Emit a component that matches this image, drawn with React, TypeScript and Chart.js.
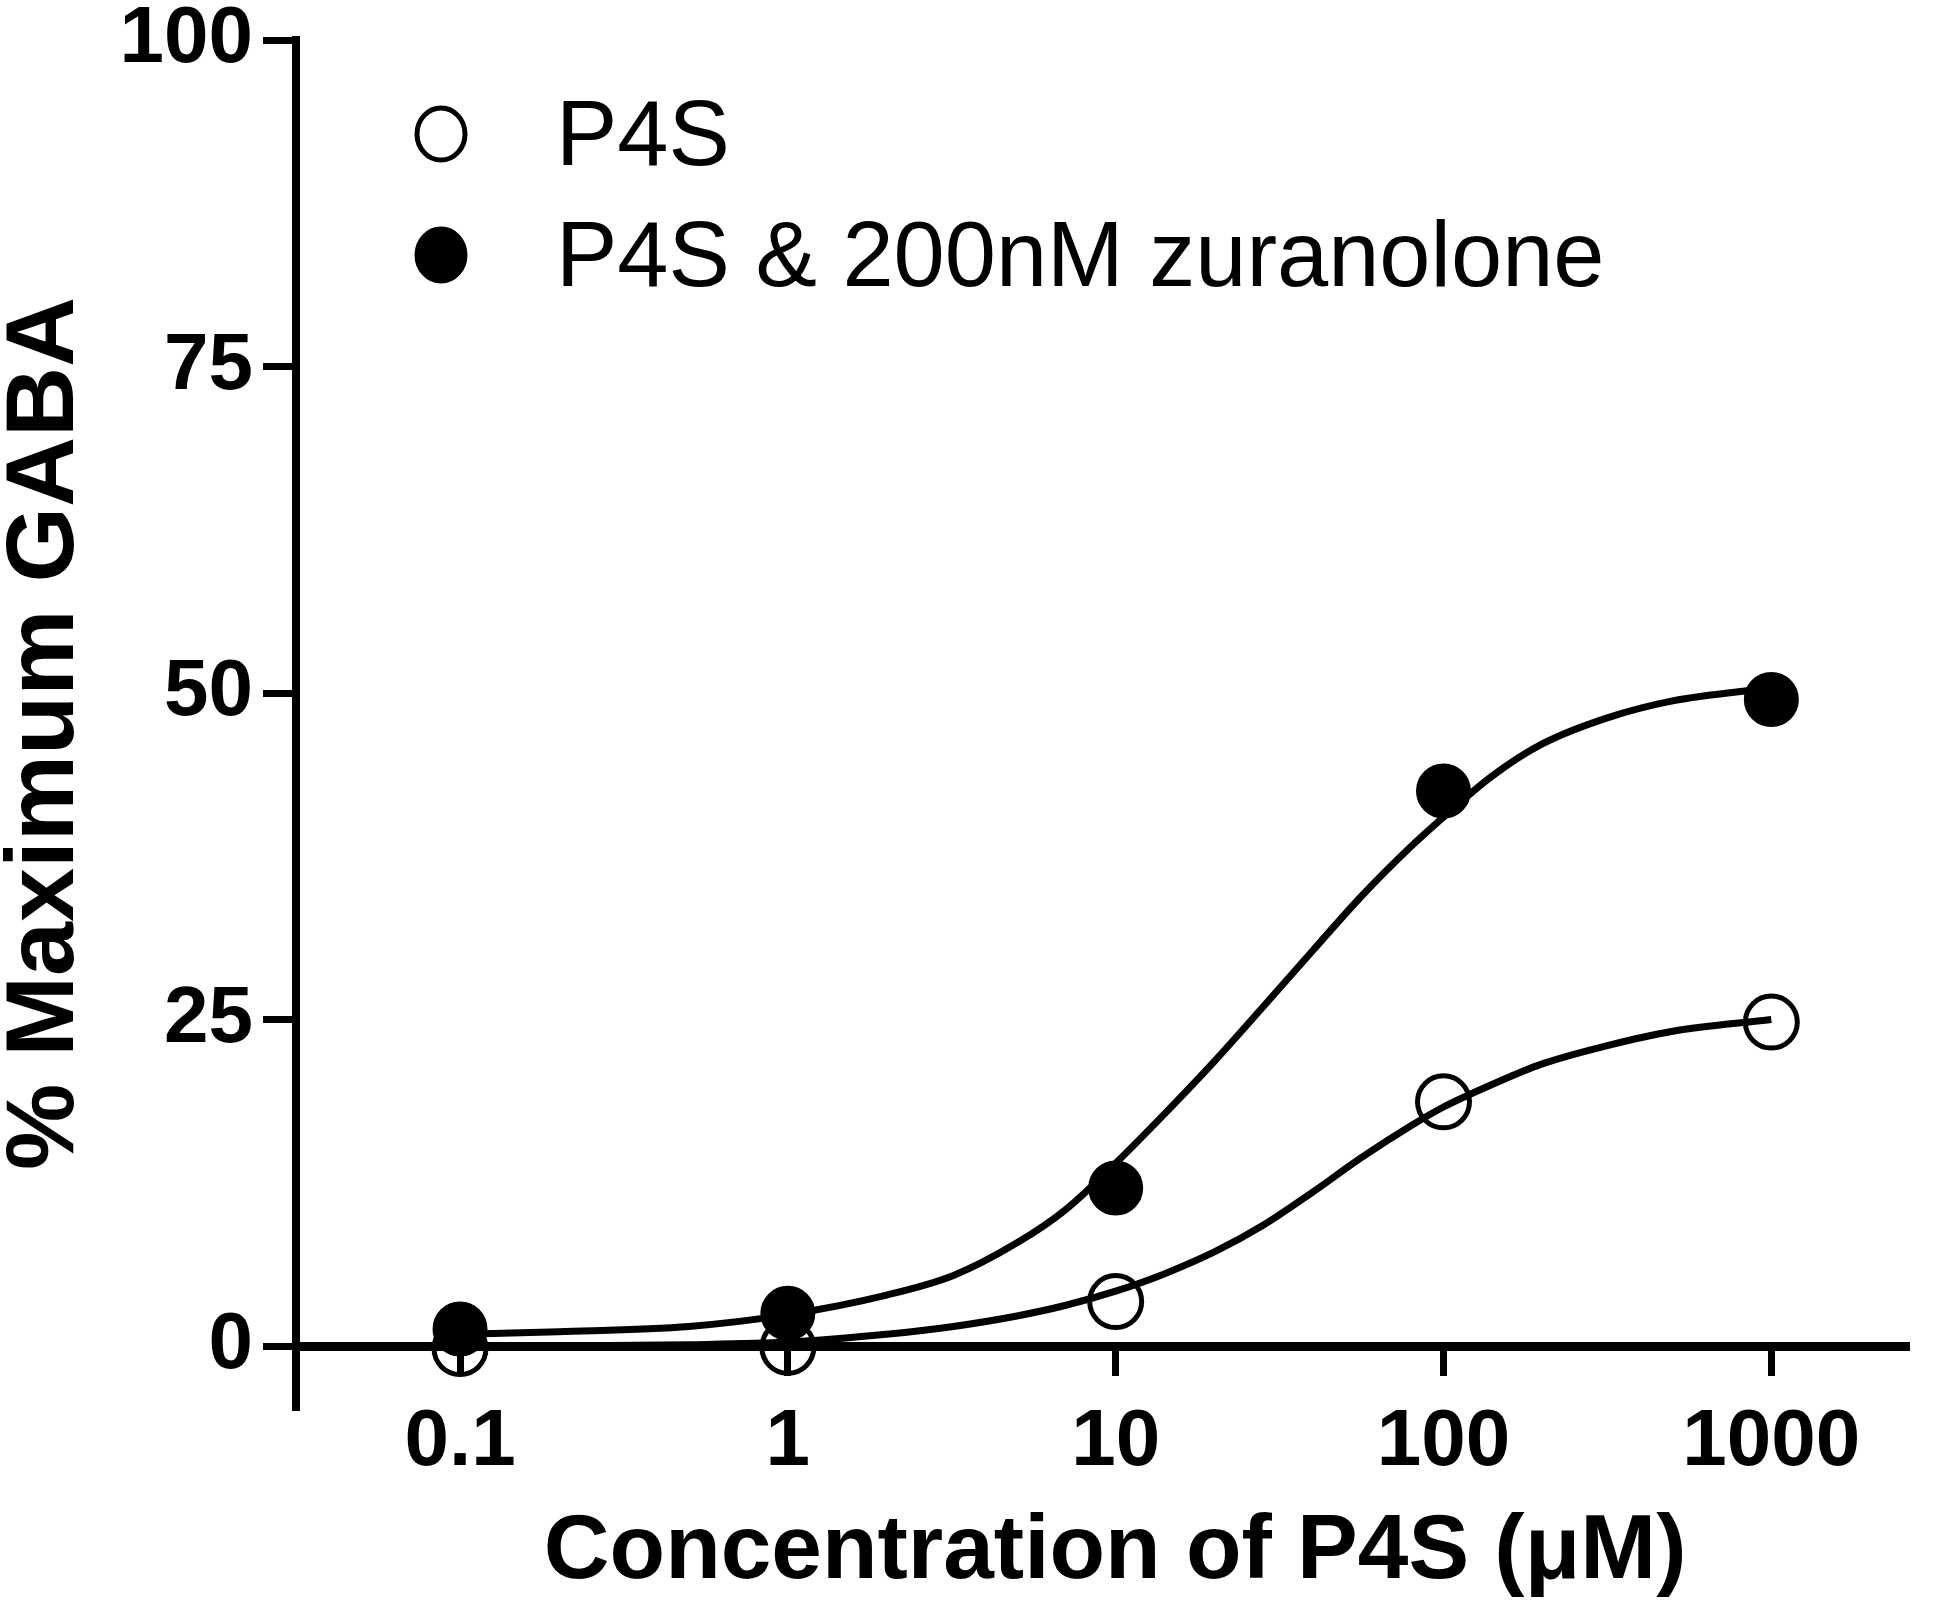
import React, { useEffect, useRef } from "react";
import { Chart, registerables } from "chart.js";

Chart.register(...registerables);

// ---- Data ----
const concentrations = [0.1, 1, 10, 100, 1000];
const p4sValues = [-0.2, -0.1, 3.4, 18.7, 24.8];
const p4sZurValues = [1.3, 2.5, 12.1, 42.5, 49.5];

// fitted curves
const curveConcentrations = [0.1, 0.2, 0.5, 1, 2, 3.2, 5, 7, 10, 14, 20, 28, 40, 56, 80, 100, 140, 200, 316, 500, 1000];
const p4sCurve = [-0.1, 0.0, 0.1, 0.3, 0.9, 1.5, 2.3, 3.1, 4.2, 5.5, 7.2, 9.2, 11.8, 14.4, 16.9, 18.3, 20.0, 21.6, 23.0, 24.1, 25.0];
const p4sZurCurve = [0.9, 1.1, 1.5, 2.4, 3.9, 5.4, 7.9, 10.4, 14.0, 17.7, 21.8, 25.9, 30.3, 34.4, 38.3, 40.5, 43.6, 46.1, 48.1, 49.4, 50.4];

const xTickValues = [0.1, 1, 10, 100, 1000];
const xTickLabels = ["0.1", "1", "10", "100", "1000"];
const yTickValues = [0, 25, 50, 75, 100];
const seriesLabels = ["P4S", "P4S & 200nM zuranolone"];
const xAxisTitle = " Concentration of P4S (\u03BCM)";
const yAxisTitle = "% Maximum GABA   ";

const FONT = "'Liberation Sans', Arial, Helvetica, sans-serif";

const legendPlugin = {
  id: "insideLegend",
  afterDraw(chart: any) {
    const { ctx, chartArea } = chart;
    const rows = [
      { label: seriesLabels[0], filled: false, dy: 94 },
      { label: seriesLabels[1], filled: true, dy: 215 },
    ];
    ctx.save();
    rows.forEach((r) => {
      const cx = chartArea.left + 145;
      const cy = chartArea.top + r.dy;
      ctx.beginPath();
      ctx.ellipse(cx, cy, 24, 26, 0, 0, Math.PI * 2);
      ctx.lineWidth = 5;
      ctx.strokeStyle = "#000";
      if (r.filled) {
        ctx.fillStyle = "#000";
        ctx.fill();
      }
      ctx.stroke();
      ctx.fillStyle = "#000";
      ctx.font = `normal 92px ${FONT}`;
      ctx.textAlign = "left";
      ctx.textBaseline = "alphabetic";
      ctx.fillText(r.label, chartArea.left + 260, cy + 31);
    });
    ctx.restore();
  },
};

const axisExtensionPlugin = {
  id: "axisExtension",
  afterDraw(chart: any) {
    const { ctx, chartArea, scales } = chart;
    const y0 = scales.y.getPixelForValue(0);
    ctx.save();
    ctx.strokeStyle = "#000";
    ctx.lineWidth = 8;
    ctx.beginPath();
    ctx.moveTo(chartArea.left, y0 - 2);
    ctx.lineTo(chartArea.left, y0 + 65);
    ctx.stroke();
    ctx.restore();
  },
};

export default function App() {
  const canvasRef = useRef<HTMLCanvasElement | null>(null);

  useEffect(() => {
    document.body.style.margin = "0";
    const canvas = canvasRef.current;
    if (!canvas) return;
    Chart.defaults.font.family = FONT;
    Chart.defaults.color = "#000";

    const chart = new Chart(canvas, {
      type: "line",
      data: {
        datasets: [
          {
            label: seriesLabels[1],
            data: concentrations.map((x, i) => ({ x, y: p4sZurValues[i] })),
            showLine: false,
            pointRadius: 26,
            pointHoverRadius: 26,
            pointBackgroundColor: "#000",
            pointBorderColor: "#000",
            pointBorderWidth: 3,
            order: 0,
            clip: false,
          } as any,
          {
            label: seriesLabels[0],
            data: concentrations.map((x, i) => ({ x, y: p4sValues[i] })),
            showLine: false,
            pointRadius: 26,
            pointHoverRadius: 26,
            pointBackgroundColor: "rgba(0,0,0,0)",
            pointBorderColor: "#000",
            pointBorderWidth: 5,
            order: 1,
            clip: false,
          } as any,
          {
            label: seriesLabels[1] + " fit",
            data: curveConcentrations.map((x, i) => ({ x, y: p4sZurCurve[i] })),
            borderColor: "#000",
            borderWidth: 7,
            pointRadius: 0,
            cubicInterpolationMode: "monotone",
            fill: false,
            order: 2,
            clip: false,
          } as any,
          {
            label: seriesLabels[0] + " fit",
            data: curveConcentrations.map((x, i) => ({ x, y: p4sCurve[i] })),
            borderColor: "#000",
            borderWidth: 7,
            pointRadius: 0,
            cubicInterpolationMode: "monotone",
            fill: false,
            order: 3,
            clip: false,
          } as any,
        ],
      },
      options: {
        animation: false,
        responsive: false,
        devicePixelRatio: 1,
        layout: { padding: { top: 32, left: 0, right: 41, bottom: 0 } },
        plugins: {
          legend: { display: false },
          tooltip: { enabled: false },
        },
        scales: {
          x: {
            type: "logarithmic",
            position: "bottom",
            min: 0.0316,
            max: 2630,
            afterBuildTicks: (scale: any) => {
              scale.ticks = xTickValues.map((v) => ({ value: v }));
            },
            afterFit: (scale: any) => {
              scale.height = 274;
            },
            ticks: {
              autoSkip: false,
              maxRotation: 0,
              padding: 19,
              font: { size: 80, weight: "bold", lineHeight: 1.2 },
              color: "#000",
              callback: (_v: any, i: number) => xTickLabels[i],
            },
            grid: {
              drawOnChartArea: false,
              drawTicks: true,
              tickLength: 30,
              tickWidth: 7,
              tickColor: "#000",
            },
            border: { display: true, color: "#000", width: 9 },
            title: {
              display: true,
              text: xAxisTitle,
              color: "#000",
              font: { size: 91, weight: "bold", lineHeight: 1.2 },
              padding: { top: 0, bottom: 12 },
            },
          },
          y: {
            type: "linear",
            min: 0,
            max: 100,
            afterBuildTicks: (scale: any) => {
              scale.ticks = yTickValues.map((v) => ({ value: v }));
            },
            afterFit: (scale: any) => {
              scale.width = 296;
            },
            ticks: {
              padding: 10,
              font: { size: 80, weight: "bold", lineHeight: 0.75 },
              color: "#000",
              callback: (v: any) => String(v),
            },
            grid: {
              drawOnChartArea: false,
              drawTicks: true,
              tickLength: 33,
              tickWidth: 7,
              tickColor: "#000",
            },
            border: { display: true, color: "#000", width: 8 },
            title: {
              display: true,
              text: yAxisTitle,
              color: "#000",
              font: { size: 97, weight: "bold", lineHeight: 0.95 },
              padding: { top: 0, bottom: 0 },
            },
          },
        },
      },
      plugins: [legendPlugin, axisExtensionPlugin],
    } as any);

    return () => {
      chart.destroy();
    };
  }, []);

  return (
    <div style={{ position: "absolute", left: 0, top: 0, width: 1950, height: 1620, background: "#fff" }}>
      <canvas ref={canvasRef} width={1950} height={1620} />
    </div>
  );
}
